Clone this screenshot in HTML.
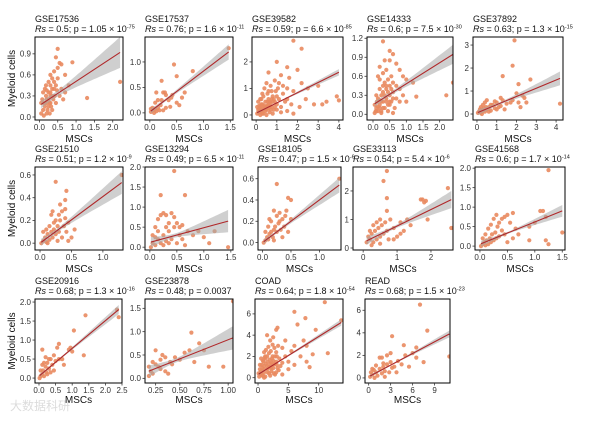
<!DOCTYPE html>
<html><head><meta charset="utf-8">
<style>
html,body{margin:0;padding:0;background:#fff;}
svg{display:block;font-family:"Liberation Sans","Noto Sans CJK SC",sans-serif;}
</style></head>
<body>
<svg id="chart" width="602" height="422" viewBox="0 0 602 422">
<text x="10" y="410" font-size="12" fill="#dcdcdc">大数据科研</text>
</svg>
<script>
// ---- data ----
const titles=["GSE17536","GSE17537","GSE39582","GSE14333","GSE37892","GSE21510","GSE13294","GSE18105","GSE33113","GSE41568","GSE20916","GSE23878","COAD","READ"];
const rsVals=["0.5","0.76","0.59","0.6","0.63","0.51","0.49","0.47","0.54","0.6","0.68","0.48","0.64","0.68"];
const pMant=["1.05","1.6","6.6","7.5","1.3","1.2","6.5","1.5","5.4","1.7","1.3","0.0037","1.8","1.5"];
const pExp=["-75","-11","-85","-30","-15","-9","-11","-6","-6","-14","-16","","-54","-23"];
const fitIntercept=[0.163,0.02,0.07,0.15,0.05,0.0,0.12,0.0,0.19,0.05,0.05,0.007,0.3,0.1];
const fitSlope=[0.344,0.8,0.385,0.332,0.357,0.41,0.366,0.4,0.58,0.57,0.73,0.82,0.357,0.345];
const ribbonHalf=[0.22,0.15,0.12,0.15,0.3,0.1,0.28,0.07,0.3,0.15,0.12,0.25,0.3,0.3];
const xTicks=[[0,0.5,1,1.5,2],[0,0.5,1,1.5],[0,1,2,3,4],[0,0.5,1,1.5,2],[0,1,2,3,4],[0,0.5,1],[0,0.5,1,1.5],[0,0.5,1],[0,1,2],[0,0.5,1,1.5],[0,0.5,1,1.5,2,2.5],[0.25,0.5,0.75,1],[0,5,10],[0,3,6,9]];
const xTickLabels=[["0.0","0.5","1.0","1.5","2.0"],["0.0","0.5","1.0","1.5"],["0","1","2","3","4"],["0.0","0.5","1.0","1.5","2.0"],["0","1","2","3","4"],["0.0","0.5","1.0"],["0.0","0.5","1.0","1.5"],["0.0","0.5","1.0"],["0","1","2"],["0.0","0.5","1.0","1.5"],["0.0","0.5","1.0","1.5","2.0","2.5"],["0.25","0.50","0.75","1.00"],["0","5","10"],["0","3","6","9"]];
const yTicks=[[0,0.3,0.6,0.9],[0,0.5,1],[0,1,2],[0,0.3,0.6,0.9,1.2],[0,1,2,3],[0,0.2,0.4,0.6],[0,0.5,1,1.5,2],[0,0.2,0.4,0.6],[0,1,2],[0,0.5,1,1.5,2],[0,0.5,1,1.5,2],[0,0.5,1,1.5],[0,2,4,6],[0,2,4,6]];
const yTickLabels=[["0.0","0.3","0.6","0.9"],["0.0","0.5","1.0"],["0","1","2"],["0.0","0.3","0.6","0.9","1.2"],["0","1","2","3"],["0.0","0.2","0.4","0.6"],["0.0","0.5","1.0","1.5","2.0"],["0.0","0.2","0.4","0.6"],["0","1","2"],["0.0","0.5","1.0","1.5","2.0"],["0.0","0.5","1.0","1.5","2.0"],["0.0","0.5","1.0","1.5"],["0","2","4","6"],["0","2","4","6"]];
const ptsX=[
[0.05,0.1,0.12,0.15,0.18,0.2,0.22,0.25,0.28,0.3,0.3,0.32,0.35,0.38,0.4,0.42,0.45,0.48,0.5,0.1,0.15,0.2,0.25,0.08,0.35,0.55,0.6,0.65,0.7,0.4,0.5,0.55,0.6,0.45,0.5,0.9,0.7,0.3,0.8,1.3,2.2,0.05,0.12,0.28,0.18,0.35,0.15,0.2,0.25,0.3,0.35,0.4,0.45,0.2,0.3,0.25],
[0.02,0.05,0.08,0.1,0.12,0.15,0.18,0.2,0.05,0.1,0.15,0.22,0.25,0.28,0.3,0.22,0.35,0.4,0.42,0.45,0.5,0.5,0.55,0.6,0.65,0.8,0.12,0.3,0.02,1.47,0.38,0.25],
[0.05,0.1,0.15,0.2,0.25,0.3,0.35,0.4,0.45,0.5,0.55,0.6,0.65,0.7,0.75,0.8,0.85,0.9,0.95,1.0,1.1,1.2,1.3,1.4,1.5,0.2,0.3,0.4,0.5,0.6,0.7,0.9,1.0,1.1,1.2,1.3,1.5,1.6,1.7,1.8,2.0,2.1,2.2,2.4,2.5,2.8,3.0,3.2,3.4,3.9,4.0,1.8,2.2,1.0,0.6,1.5,0.1,0.15,0.25,0.35,0.45,0.55,0.65,0.75,0.85,1.05,0.2,0.5,0.8,1.2,1.5,1.8,0.1,0.2,0.3,0.4,0.5,0.6,0.7,0.8,0.9,1.0,0.15,0.25,0.35,0.45,0.55,0.65,0.75,0.05,0.3,0.6],
[0.05,0.1,0.15,0.2,0.25,0.3,0.35,0.4,0.45,0.5,0.55,0.6,0.65,0.7,0.1,0.15,0.2,0.25,0.3,0.35,0.4,0.45,0.5,0.55,0.6,0.3,0.4,0.5,0.6,0.5,0.3,0.7,0.8,0.9,1.0,0.8,0.9,1.0,1.2,1.3,2.2,2.4,0.15,0.2,0.35,0.05,0.08,0.12,0.25,0.45,0.6,0.7,0.8,0.2,0.1,0.2,0.3,0.4,0.5,0.15,0.25,0.35,0.45,0.55,0.3,0.4,0.2,0.5,0.6],
[0.05,0.1,0.2,0.3,0.4,0.5,0.6,0.7,0.8,0.9,1.0,1.1,1.2,1.3,1.4,1.5,1.7,1.8,2.0,2.1,2.2,2.4,2.5,2.7,1.8,1.9,1.3,2.1,4.2,0.2,0.3,0.5,0.4,0.6,0.15,0.25,0.35,0.45,0.7,0.9,1.0,1.2,2.3],
[0.02,0.05,0.08,0.1,0.12,0.15,0.18,0.2,0.22,0.25,0.28,0.3,0.32,0.35,0.38,0.4,0.42,0.45,0.15,0.18,0.2,0.25,0.3,0.35,0.4,0.25,0.42,0.4,0.32,0.05,0.1,0.45,0.5,0.55,1.3,0.12,0.28,0.22],
[0.02,0.05,0.1,0.15,0.2,0.25,0.3,0.35,0.4,0.45,0.5,0.55,0.6,0.65,0.7,0.1,0.15,0.2,0.25,0.3,0.35,0.4,0.45,0.2,0.45,0.65,0.05,0.1,0.15,0.3,0.5,0.55,0.8,0.9,1.0,1.1,1.2,1.45,0.25,0.35,0.6],
[0.02,0.05,0.08,0.1,0.12,0.15,0.18,0.2,0.22,0.25,0.28,0.3,0.32,0.35,0.38,0.4,0.15,0.2,0.25,0.3,0.12,0.25,0.45,0.5,0.42,0.5,0.05,0.1,0.45,1.35,0.2,0.35],
[0.1,0.15,0.2,0.25,0.3,0.35,0.4,0.45,0.5,0.55,0.6,0.65,0.7,0.75,0.8,0.9,1.0,1.1,1.2,1.3,1.4,1.75,1.8,1.7,1.85,1.9,2.5,2.6,0.6,0.7,0.7,0.7,0.3,0.4,0.5,0.2,0.5,0.25,0.9,1.1],
[0.02,0.05,0.08,0.1,0.12,0.15,0.18,0.2,0.22,0.25,0.28,0.3,0.32,0.35,0.4,0.2,0.25,0.3,0.35,0.4,0.45,0.5,0.55,0.6,0.65,0.7,0.9,1.0,1.1,1.15,1.2,1.25,1.2,1.25,1.5,0.9,0.1,0.15,0.05,0.45,0.5,0.6],
[0.02,0.05,0.1,0.12,0.15,0.2,0.22,0.25,0.3,0.35,0.4,0.45,0.5,0.55,0.6,0.7,0.75,0.9,0.95,1.0,1.05,1.4,1.35,2.4,2.35,0.1,0.15,0.3,0.05,0.2,0.1,0.6,0.35,0.45,0.25],
[0.18,0.2,0.22,0.25,0.28,0.3,0.32,0.35,0.38,0.4,0.42,0.45,0.5,0.55,0.6,0.62,0.65,0.7,0.75,0.8,0.95,1.05,0.25,0.3,0.18,0.22,0.35],
[0.2,0.5,0.8,1.0,1.2,1.5,1.8,2.0,2.2,2.5,2.8,3.0,3.2,3.5,0.3,0.6,0.9,1.2,1.5,1.8,2.1,2.4,2.7,3.0,3.3,0.4,0.7,1.0,1.3,1.6,1.9,2.2,2.5,2.8,3.1,3.4,3.7,4.0,4.5,5.0,5.5,6.0,1.5,2.0,2.5,3.0,3.2,4.0,4.5,6.0,7.8,6.5,7.0,7.5,8.0,8.5,8.0,9.0,9.5,11,11.5,13.7,5.0,6.0,1.0,2.0,3.0,4.0,0.1,0.5,1.0,0.5,1.0,1.5,2.0,2.5,0.8,1.2,1.8,2.3,2.8,0.3,0.7,1.1,1.6,2.1,2.6,3.1,1.3,1.7,2.4],
[0.2,0.5,0.8,1.0,1.2,1.5,1.8,2.0,2.2,2.5,2.8,3.0,3.2,3.5,0.5,1.0,1.5,2.0,2.5,3.0,3.2,4.0,4.5,5.0,5.5,6.0,6.5,7.0,7.5,8.0,11,4.8,1.8,0.3,0.7,2.2,3.8,6.5]];
const ptsY=[
[0.05,0.1,0.2,0.15,0.3,0.25,0.1,0.35,0.2,0.3,0.45,0.15,0.4,0.25,0.5,0.3,0.2,0.38,0.55,0.35,0.4,0.05,0.5,0.25,0.1,0.3,0.4,0.25,0.35,0.65,0.7,0.77,0.75,0.85,0.97,0.78,0.6,0.6,0.45,0.27,0.5,0.2,0.02,0.05,0.45,0.55,0.2,0.2,0.25,0.35,0.3,0.4,0.45,0.38,0.2,0.15],
[0.02,0.05,0.0,0.08,0.03,0.1,0.05,0.15,0.1,0.2,0.25,0.25,0.4,0.4,0.35,0.63,0.25,0.3,0.35,0.95,0.72,0.2,0.15,0.3,0.4,0.82,0.4,0.1,0.08,1.27,0.12,0.05],
[0.05,0.2,0.1,0.3,0.15,0.4,0.05,0.25,0.5,0.2,0.35,0.6,0.1,0.45,0.3,0.7,0.2,0.5,0.9,0.4,0.6,0.3,0.8,0.5,1.0,0.6,0.8,1.0,1.2,0.9,1.1,1.3,0.7,1.2,1.5,1.1,0.6,1.4,0.4,0.9,1.7,0.3,1.2,0.6,1.0,0.4,1.1,0.4,0.5,0.7,0.55,2.8,2.5,2.0,1.6,1.8,0.5,0.35,0.6,0.7,0.15,0.8,0.5,0.9,0.6,1.0,0.0,0.0,0.05,0.1,0.15,0.05,0.1,0.15,0.25,0.35,0.3,0.4,0.2,0.5,0.3,0.2,0.25,0.4,0.2,0.3,0.5,0.3,0.6,0.3,0.05,0.25],
[0.02,0.1,0.05,0.15,0.05,0.2,0.1,0.25,0.15,0.3,0.2,0.35,0.1,0.25,0.3,0.25,0.4,0.3,0.45,0.5,0.4,0.55,0.45,0.6,0.5,0.65,0.7,0.85,0.95,1.0,1.15,0.8,0.7,0.6,0.55,0.4,0.3,0.2,0.5,0.28,0.3,0.5,0.6,0.75,0.85,0.15,0.05,0.2,0.02,0.05,0.02,0.45,0.2,0.55,0.05,0.1,0.1,0.2,0.2,0.12,0.2,0.3,0.35,0.4,0.35,0.45,0.22,0.15,0.25],
[0.05,0.1,0.05,0.15,0.1,0.2,0.3,0.15,0.4,0.25,0.5,0.3,0.7,0.6,0.2,0.45,0.5,0.6,0.9,0.5,0.3,0.7,0.5,1.5,2.1,3.2,1.65,1.3,0.45,0.3,0.4,0.6,0.5,0.1,0.2,0.0,0.25,0.3,0.4,0.55,0.2,0.35,0.8],
[0.0,0.02,0.05,0.01,0.08,0.03,0.1,0.05,0.12,0.08,0.15,0.1,0.2,0.05,0.15,0.22,0.1,0.18,0.15,0.25,0.28,0.2,0.25,0.28,0.3,0.54,0.46,0.38,0.34,0.1,0.12,0.02,0.05,0.12,0.6,0.0,0.02,0.18],
[0.0,0.1,0.05,0.2,0.1,0.3,0.15,0.4,0.2,0.5,0.1,0.3,0.2,0.05,0.4,0.5,0.7,0.8,0.85,0.8,0.6,0.85,0.75,1.3,1.9,1.3,0.3,0.25,0.4,0.5,0.6,0.5,0.3,0.4,0.25,0.1,0.4,0.0,0.05,0.1,0.55],
[0.0,0.02,0.05,0.03,0.08,0.1,0.05,0.12,0.15,0.1,0.18,0.2,0.12,0.22,0.15,0.25,0.2,0.3,0.25,0.28,0.22,0.55,0.42,0.4,0.3,0.22,0.1,0.15,0.1,0.6,0.02,0.05],
[0.2,0.4,0.3,0.5,0.2,0.6,0.3,0.7,0.4,0.8,0.5,0.9,0.6,0.3,1.0,0.7,0.4,0.9,0.6,1.0,0.8,1.7,1.6,1.7,1.65,1.0,2.1,0.7,2.35,2.7,1.75,1.3,0.8,0.9,1.0,0.6,0.15,0.1,0.3,0.5],
[0.0,0.05,0.1,0.02,0.15,0.05,0.2,0.1,0.3,0.15,0.35,0.2,0.5,0.25,0.4,0.55,0.7,0.8,0.6,0.7,0.75,0.8,0.6,0.85,0.45,0.3,0.5,0.6,0.9,0.9,0.75,1.95,0.15,0.05,0.35,0.15,0.3,0.45,0.2,0.3,0.1,0.2],
[0.0,0.05,0.1,0.2,0.05,0.3,0.15,0.4,0.25,0.5,0.35,0.6,0.45,0.8,0.9,0.5,0.35,0.75,0.8,0.7,1.25,1.65,0.6,1.6,1.8,0.35,0.4,0.5,0.2,0.55,0.75,0.5,0.15,0.2,0.1],
[0.05,0.15,0.1,0.3,0.25,0.2,0.5,0.45,0.1,0.35,0.3,0.45,0.4,0.55,0.6,0.98,0.35,0.75,0.6,0.25,0.25,1.65,0.6,0.4,0.25,0.35,0.15],
[0.1,0.3,0.2,0.5,0.1,0.8,0.4,1.0,0.6,1.2,0.3,1.5,0.9,1.8,0.8,1.2,1.5,1.8,2.0,2.3,2.5,2.0,2.8,2.4,3.0,0.5,0.9,1.1,1.3,1.5,1.7,1.4,1.6,2.0,1.2,0.7,1.1,1.4,2.0,1.5,2.5,3.0,4.0,3.5,3.8,4.5,4.7,2.8,3.5,6.2,5.6,5.0,2.0,3.5,3.0,1.0,1.5,2.2,4.5,7.1,2.3,5.4,0.8,1.2,0.0,0.2,0.5,0.3,0.4,1.8,2.4,0.6,0.8,1.1,1.3,0.9,1.6,2.0,1.0,1.8,1.3,1.2,0.2,1.9,0.5,0.9,0.4,2.0,2.6,2.9,3.1],
[0.1,0.3,0.0,0.5,0.2,0.8,0.4,1.0,0.6,1.2,0.5,1.4,0.9,1.0,0.8,1.1,1.8,1.3,2.0,2.2,3.7,1.5,1.2,2.0,1.0,2.2,2.7,6.5,1.4,4.2,1.9,2.9,1.8,0.5,0.7,0.1,0.5,1.8]];
// ---- layout (pixels) ----
const boxL=[35,145,252,367,473,35,145,258,353,475,35,145,255,365];
const boxR=[123,233,343,453,563,123,233,341,453,565,122,233,343,450];
const rowTop=[37,167,299], rowBot=[120,250,383];
const xDom=[[-0.12,2.28],[-0.09,1.55],[-0.2,4.2],[-0.18,2.4],[-0.2,4.35],[-0.08,1.32],[-0.09,1.54],[-0.08,1.38],[-0.3,2.65],[-0.09,1.55],[-0.12,2.5],[0.14,1.05],[-0.5,14],[-0.5,11.1]];
const yDom=[[-0.043,1.14],[-0.14,1.49],[-0.19,2.94],[-0.09,1.22],[-0.26,3.35],[-0.06,0.67],[-0.07,2.0],[-0.07,0.71],[-0.07,2.84],[-0.1,2.03],[-0.13,2.08],[-0.1,1.7],[-0.5,7.4],[-0.45,7.0]];

const NS="http://www.w3.org/2000/svg";
const svg=document.getElementById('chart');
function mk(tag,attrs,parent){const e=document.createElementNS(NS,tag);for(const k in attrs)e.setAttribute(k,attrs[k]);(parent||svg).appendChild(e);return e;}

for(let i=0;i<14;i++){
  const row=i<5?0:(i<10?1:2);
  const L=boxL[i],R=boxR[i],T=rowTop[row],B=rowBot[row];
  const sx=v=>L+(v-xDom[i][0])/(xDom[i][1]-xDom[i][0])*(R-L);
  const sy=v=>B-(v-yDom[i][0])/(yDom[i][1]-yDom[i][0])*(B-T);
  const g=mk('g',{});
  
  
  const clipId='clip'+i;
  const cp=mk('clipPath',{id:clipId},g);mk('rect',{x:L,y:T,width:R-L,height:B-T},cp);
  const plot=mk('g',{'clip-path':'url(#'+clipId+')'},g);
  const xs=ptsX[i],ys=ptsY[i];
  for(let k=0;k<xs.length;k++){
    const c=mk('circle',{cx:sx(xs[k]).toFixed(1),cy:sy(ys[k]).toFixed(1),r:2.1,fill:'#E9895F','fill-opacity':0.9},plot);
    
    
  }
  const xmin=Math.min(...xs),xmax=Math.max(...xs);
  const xm=xs.reduce((a,b)=>a+b,0)/xs.length;
  const wR=ribbonHalf[i],wmin=wR*0.18;
  const span=Math.max(xmax-xm,xm-xmin);
  const up=[],dn=[];
  for(let s=0;s<=30;s++){
    const x=xmin+(xmax-xmin)*s/30;
    const yv=fitIntercept[i]+fitSlope[i]*x;
    const t=(x-xm)/span;
    const w=Math.sqrt(wmin*wmin+(wR*wR-wmin*wmin)*t*t);
    up.push(sx(x).toFixed(1)+','+sy(yv+w).toFixed(1));
    dn.unshift(sx(x).toFixed(1)+','+sy(yv-w).toFixed(1));
  }
  const rib=mk('polygon',{points:up.concat(dn).join(' '),fill:'#a8a8a8','fill-opacity':0.55},plot);
  
  
  const ln=mk('line',{x1:sx(xmin),y1:sy(fitIntercept[i]+fitSlope[i]*xmin),x2:sx(xmax),y2:sy(fitIntercept[i]+fitSlope[i]*xmax),stroke:'#B0282A','stroke-width':1.1},plot);
  
  
  const bx=mk('rect',{x:L,y:T,width:R-L,height:B-T,fill:'none',stroke:'#000','stroke-width':1},g);
  
  
  xTicks[i].forEach((v,k)=>{
    const x=sx(v);
    mk('line',{x1:x,y1:B,x2:x,y2:B+2.5,stroke:'#333','stroke-width':0.8},g);
    const t=mk('text',{x:x,y:B+10,'font-size':8,'text-anchor':'middle',fill:'#333'},g);
    t.textContent=xTickLabels[i][k];
    
    
  });
  yTicks[i].forEach((v,k)=>{
    const y=sy(v);
    mk('line',{x1:L-2.5,y1:y,x2:L,y2:y,stroke:'#333','stroke-width':0.8},g);
    const t=mk('text',{x:L-4,y:y+2.8,'font-size':8,'text-anchor':'end',fill:'#333'},g);
    t.textContent=yTickLabels[i][k];
    
    
  });
  const tx=L;
  const t1=mk('text',{x:tx,y:T-15,'font-size':9,fill:'#111'},g);
  t1.textContent=titles[i];
  
  
  const t2=mk('text',{x:tx,y:T-5,'font-size':9,fill:'#111'},g);
  
  
  const a=mk('tspan',{'font-style':'italic'},t2);a.textContent='Rs';
  const b=mk('tspan',{},t2);
  if(pExp[i]){
    b.textContent=' = '+rsVals[i]+'; p = '+pMant[i]+' \u00d7 10';
    const c=mk('tspan',{'font-size':5.5,dy:-3.5},t2);c.textContent=pExp[i];
  } else {
    b.textContent=' = '+rsVals[i]+'; p = '+pMant[i];
  }
  const xt=mk('text',{x:(L+R)/2,y:B+(row===2?20:22),'font-size':10,'text-anchor':'middle',fill:'#111'},g);
  xt.textContent='MSCs';
  
  
}
[0,1,2].forEach(r=>{
  const cy=(rowTop[r]+rowBot[r])/2;
  const t=mk('text',{x:0,y:0,'font-size':10,'text-anchor':'middle',fill:'#111',transform:'translate(15,'+cy+') rotate(-90)'});
  t.textContent='Myeloid cells';
  
  
});
</script>
</body></html>
